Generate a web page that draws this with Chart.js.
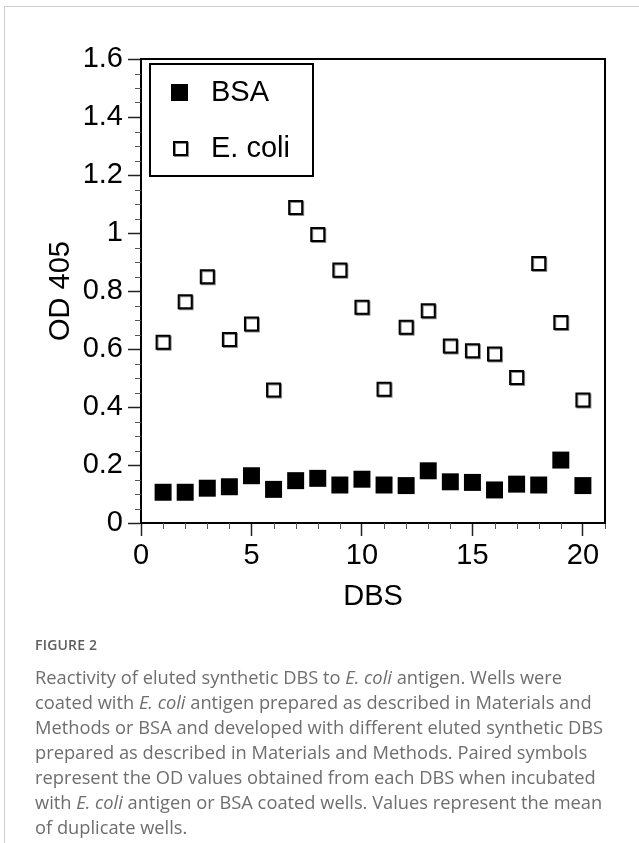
<!DOCTYPE html>
<html>
<head>
<meta charset="utf-8">
<script src="https://cdn.jsdelivr.net/npm/chart.js@4.4.1/dist/chart.umd.min.js"></script>
<style>
  html, body { margin: 0; padding: 0; background: #fff; }
  body { width: 639px; height: 843px; position: relative; overflow: hidden; }
  #card { position: absolute; left: 4px; top: 6px; width: 700px; height: 900px;
          border-left: 1px solid #cfcfcf; border-top: 1px solid #cfcfcf; }
  #chart { position: absolute; left: 0; top: 0; }
  #caption { position: absolute; left: 35px; top: 633px; width: 600px;
             font-family: "Open Sans", sans-serif; color: #6e6e6e; }
  #caption .fig { font-size: 14px; font-weight: 600; color: #5e5e5e; letter-spacing: 0.2px; line-height: 24px; }
  #caption .txt { font-size: 18.3px; line-height: 25.1px; margin-top: 6.5px; white-space: nowrap; }
</style>
</head>
<body>
<div id="card"></div>
<canvas id="chart" width="639" height="640"></canvas>
<div id="caption">
  <div class="fig">FIGURE 2</div>
  <div class="txt">Reactivity of eluted synthetic DBS to <i>E. coli</i> antigen. Wells were<br>coated with <i>E. coli</i> antigen prepared as described in Materials and<br>Methods or BSA and developed with different eluted synthetic DBS<br>prepared as described in Materials and Methods. Paired symbols<br>represent the OD values obtained from each DBS when incubated<br>with <i>E. coli</i> antigen or BSA coated wells. Values represent the mean<br>of duplicate wells.</div>
</div>
<script>
// ---- data ----
const dbs = [1,2,3,4,5,6,7,8,9,10,11,12,13,14,15,16,17,18,19,20];
const bsa = [0.106,0.106,0.120,0.125,0.163,0.116,0.146,0.154,0.131,0.151,
             0.131,0.129,0.180,0.142,0.140,0.114,0.134,0.131,0.217,0.129];
const ecoli = [0.623,0.763,0.849,0.633,0.686,0.459,1.088,0.995,0.872,0.744,
               0.461,0.675,0.732,0.610,0.594,0.583,0.502,0.895,0.691,0.424];
const xTicks = [0,5,10,15,20];
const yTicks = [0,0.2,0.4,0.6,0.8,1,1.2,1.4,1.6];
const xMinorStep = 1;
const yMinorStep = 0.05;
const seriesNames = ['BSA','E. coli'];

const FONT = '"Liberation Sans", Arial, Helvetica, sans-serif';

const toPts = (ys) => dbs.map((x, i) => ({x: x, y: ys[i]}));

const framePlugin = {
  id: 'frame',
  afterDraw(chart) {
    const {ctx, chartArea: a, scales} = chart;
    ctx.save();
    // minor ticks
    ctx.strokeStyle = '#555';
    ctx.lineWidth = 1;
    const xs = scales.x, ys = scales.y;
    for (let v = xs.min; v <= xs.max + 1e-9; v += xMinorStep) {
      if (xTicks.includes(Math.round(v))) continue;
      const px = Math.round(xs.getPixelForValue(v)) + 0.5;
      ctx.beginPath(); ctx.moveTo(px, a.bottom); ctx.lineTo(px, a.bottom + 6); ctx.stroke();
    }
    for (let k = 0; k * yMinorStep <= ys.max + 1e-9; k++) {
      const v = k * yMinorStep;
      if (k % 4 === 0) continue;
      const py = Math.round(ys.getPixelForValue(v)) + 0.5;
      ctx.beginPath(); ctx.moveTo(a.left - 6, py); ctx.lineTo(a.left, py); ctx.stroke();
    }
    // top & right frame
    ctx.strokeStyle = '#000';
    ctx.lineWidth = 2;
    ctx.beginPath();
    ctx.moveTo(a.left - 1, a.top);
    ctx.lineTo(a.right, a.top);
    ctx.lineTo(a.right, a.bottom + 1);
    ctx.stroke();
    // legend box
    const lx = a.left + 9, ly = a.top + 5, lw = 163, lh = 112;
    ctx.lineWidth = 2;
    ctx.strokeRect(lx, ly, lw, lh);
    const ds = chart.data.datasets;
    // BSA marker
    ctx.fillStyle = ds[0].pointBackgroundColor;
    ctx.fillRect(lx + 21, ly + 20, 17, 17);
    // E. coli marker
    ctx.fillStyle = '#fff';
    ctx.strokeStyle = '#000';
    ctx.lineWidth = 2;
    ctx.shadowColor = 'rgba(0,0,0,0.45)';
    ctx.shadowOffsetX = 1; ctx.shadowOffsetY = 1;
    ctx.fillRect(lx + 24, ly + 78, 13, 13);
    ctx.strokeRect(lx + 24, ly + 78, 13, 13);
    ctx.shadowColor = 'rgba(0,0,0,0)';
    ctx.fillStyle = '#000';
    ctx.font = '29px ' + FONT;
    ctx.textBaseline = 'middle';
    ctx.textAlign = 'left';
    ctx.fillText(ds[0].label, lx + 61, ly + 29);
    ctx.fillText(ds[1].label, lx + 61, ly + 85);
    ctx.restore();
  }
};

const shadowPlugin = {
  id: 'shadow',
  beforeDatasetDraw(chart, args) {
    if (args.index === 1) {
      const ctx = chart.ctx;
      ctx.save();
      ctx.shadowColor = 'rgba(0,0,0,0.45)';
      ctx.shadowOffsetX = 1;
      ctx.shadowOffsetY = 1;
      ctx.shadowBlur = 0;
    }
  },
  afterDatasetDraw(chart, args) {
    if (args.index === 1) chart.ctx.restore();
  }
};

new Chart(document.getElementById('chart'), {
  type: 'scatter',
  data: {
    datasets: [
      { label: seriesNames[0], data: toPts(bsa), pointStyle: 'rect', pointRadius: 12,
        pointBackgroundColor: '#000', pointBorderColor: '#000', pointBorderWidth: 0, pointHoverRadius: 12 },
      { label: seriesNames[1], data: toPts(ecoli), pointStyle: 'rect', pointRadius: 9.2,
        pointBackgroundColor: '#fff', pointBorderColor: '#000', pointBorderWidth: 2, pointHoverRadius: 9.2 }
    ]
  },
  options: {
    responsive: false,
    animation: false,
    devicePixelRatio: 1,
    layout: { padding: { top: 59, right: 34, bottom: 0, left: 0 } },
    plugins: { legend: { display: false }, tooltip: { enabled: false } },
    scales: {
      x: {
        type: 'linear', min: 0, max: 21,
        afterBuildTicks: (s) => { s.ticks = xTicks.map(v => ({value: v})); },
        afterFit: (s) => { s.height = 117; },
        ticks: { color: '#000', font: { family: FONT, size: 29, lineHeight: 1.2 }, padding: 3, maxRotation: 0,
                 callback: (v) => String(v) },
        grid: { display: true, drawOnChartArea: false, drawTicks: true, tickLength: 13, tickColor: '#222', tickWidth: 1.5 },
        border: { display: true, color: '#000', width: 2 },
        title: { display: true, text: 'DBS', color: '#000', font: { family: FONT, size: 29, lineHeight: 1 },
                 padding: { top: 0, bottom: 29 } }
      },
      y: {
        type: 'linear', min: 0, max: 1.6,
        afterBuildTicks: (s) => { s.ticks = yTicks.map(v => ({value: v})); },
        afterFit: (s) => { s.width = 141; },
        ticks: { color: '#000', font: { family: FONT, size: 29, lineHeight: 1.2 }, padding: 5,
                 callback: (v) => String(Number(v.toFixed(1))) },
        grid: { display: true, drawOnChartArea: false, drawTicks: true, tickLength: 13, tickColor: '#222', tickWidth: 1.5 },
        border: { display: true, color: '#000', width: 2 },
        title: { display: true, text: 'OD 405', color: '#000', font: { family: FONT, size: 29, lineHeight: 1 },
                 padding: { top: 46, bottom: 0 } }
      }
    }
  },
  plugins: [framePlugin, shadowPlugin]
});
</script>
</body>
</html>
